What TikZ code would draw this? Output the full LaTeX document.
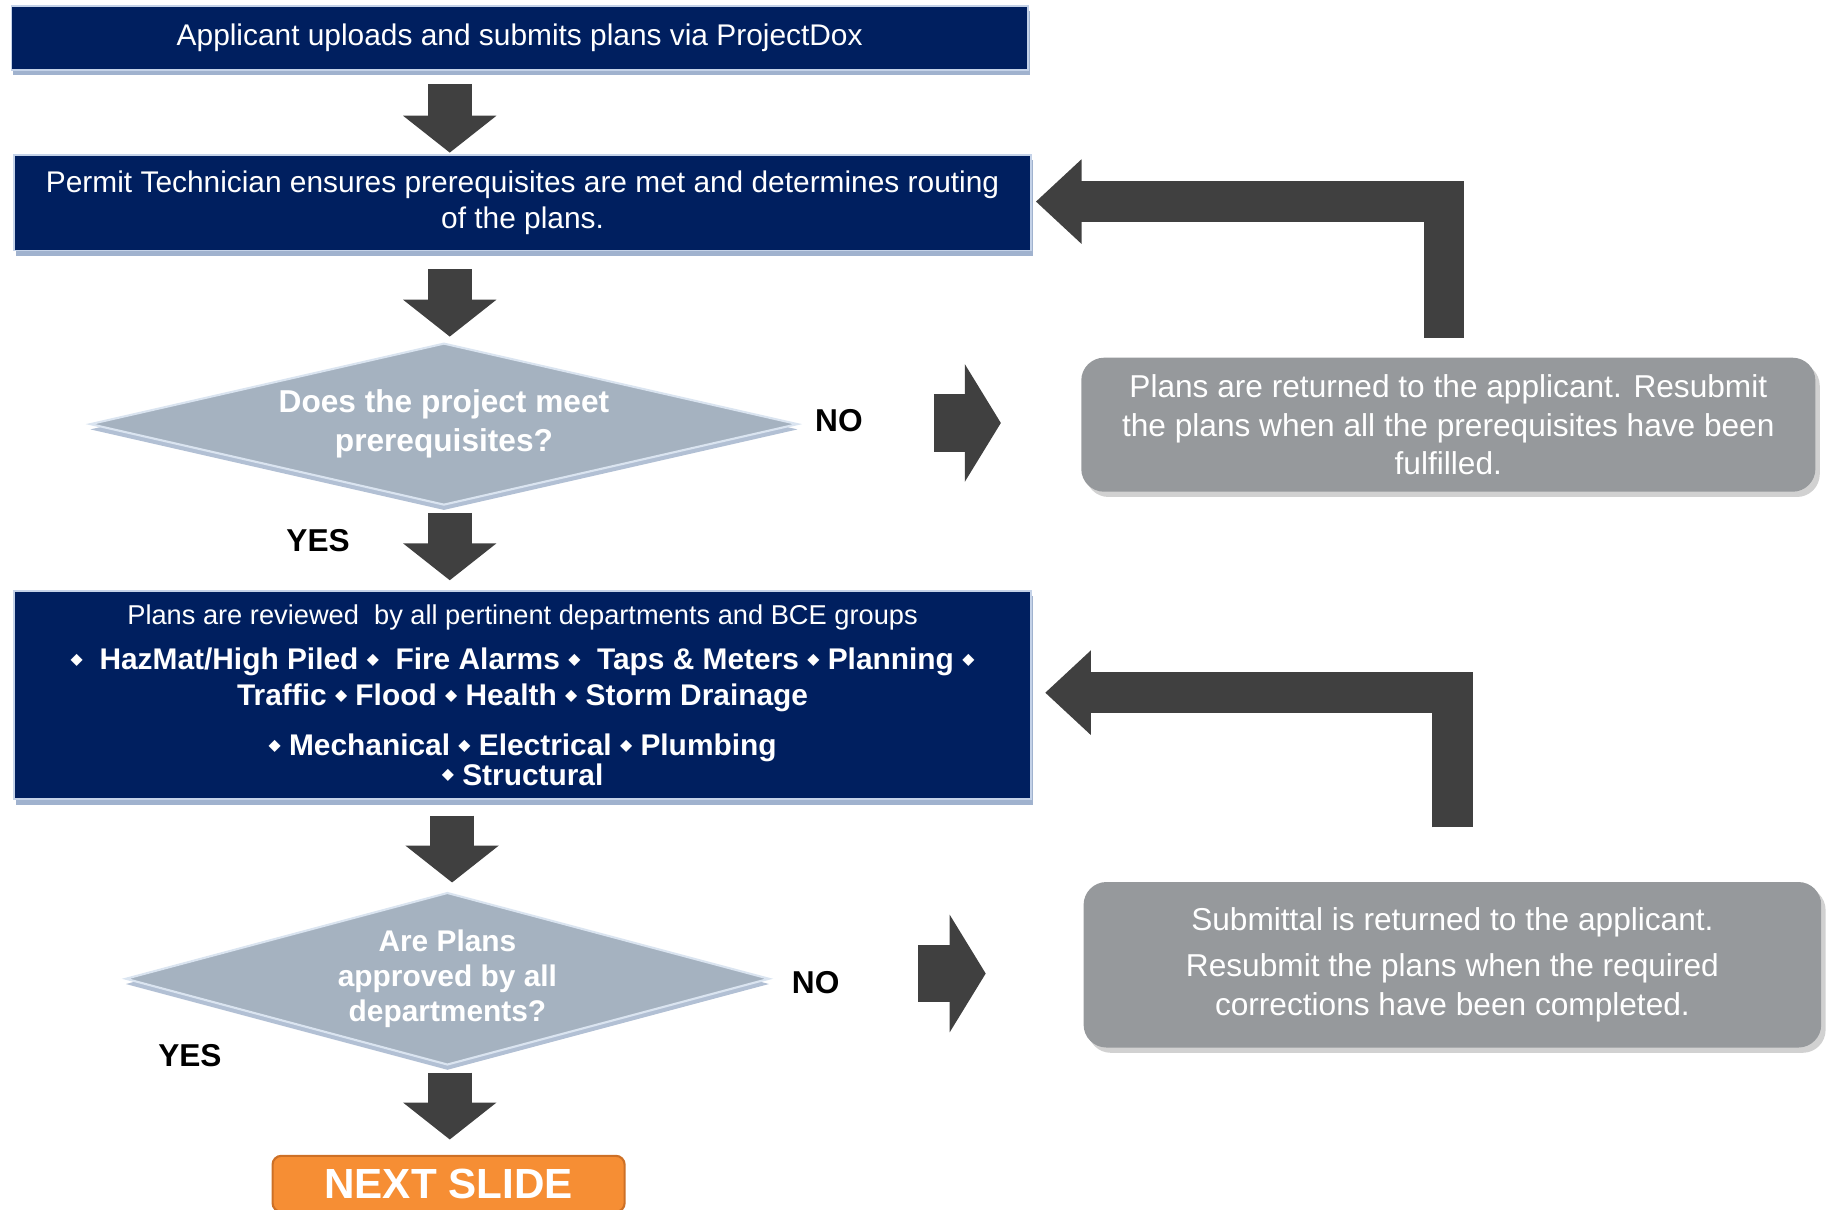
\documentclass[tikz,border=0pt]{standalone}
\usepackage{fontspec}
\setmainfont{Liberation Sans}
\newfontfamily\bulletfont{DejaVu Sans}
\usetikzlibrary{shapes.geometric,arrows.meta,shadows,calc}

\definecolor{boxnavy}{RGB}{0,31,95}
\definecolor{boxedge}{RGB}{196,210,232}
\definecolor{boxshade}{RGB}{160,178,206}
\definecolor{decfill}{RGB}{165,178,192}
\definecolor{decedge}{RGB}{218,228,240}
\definecolor{decshade}{RGB}{178,192,212}
\definecolor{retgrey}{RGB}{150,153,156}
\definecolor{arrowgrey}{RGB}{64,64,64}
\definecolor{slideorange}{RGB}{246,142,52}
\definecolor{slideedge}{RGB}{205,112,38}

\newcommand{\dept}{\raisebox{3pt}{\bulletfont\fontsize{9}{9}\selectfont ◆}}

\begin{document}
\begin{tikzpicture}[x=0.0233cm, y=-0.0233cm,
    stepbox/.style={fill=boxnavy, draw=boxedge, line width=1pt, text=white,
        align=center, inner sep=0pt, outer sep=0pt,
        font=\fontsize{17}{20.6}\selectfont,
        drop shadow={shadow xshift=1pt, shadow yshift=-3pt, fill=boxshade, opacity=1}},
    decision/.style={diamond, fill=decfill, draw=decedge, line width=1.2pt, text=white,
        align=center, inner sep=0pt, outer sep=0pt, aspect=3.6,
        drop shadow={shadow xshift=0pt, shadow yshift=-3pt, fill=decshade, opacity=1}},
    returnbox/.style={fill=retgrey, rounded corners=13pt, text=white, align=center,
        inner sep=0pt, outer sep=0pt, font=\fontsize{18}{22}\selectfont,
        drop shadow={shadow xshift=2.5pt, shadow yshift=-3pt, fill=black, opacity=0.18}},
    answer/.style={font=\bfseries\fontsize{18}{18}\selectfont, text=black},
    downarrow/.style={arrowgrey, line width=25pt, -{Triangle[width=52pt,length=21pt]}},
    rightarrow/.style={arrowgrey, line width=32.5pt, -{Triangle[width=66pt,length=20.5pt]}},
    backarrow/.style={arrowgrey, line width=23pt, -{Triangle[width=46.5pt,length=26pt]}}]
    \useasboundingbox (0,0) rectangle (1568,1038);

    % Main column
    \node[stepbox, minimum width=20.32cm, minimum height=1.28cm] (submit) at (446,32.5)
        {Applicant uploads and submits plans via ProjectDox};
    \node[stepbox, minimum width=20.34cm, minimum height=1.91cm] (techbox) at (448.5,174)
        {Permit Technician ensures prerequisites are met and determines routing\\ of the plans.};
    \node[decision, minimum width=14.14cm, minimum height=3.22cm,
        font=\bfseries\fontsize{18}{22}\selectfont] (prereq) at (381,364)
        {Does the project meet\\ prerequisites?};
    \node[stepbox, minimum width=20.34cm, minimum height=4.17cm,
        font=\bfseries\fontsize{17}{20.6}\selectfont] (review) at (448.5,596.5)
        {{\mdseries\fontsize{15.5}{18}\selectfont Plans are reviewed \ by all pertinent departments and BCE groups}\\[5pt]
         \dept\ \ HazMat/High Piled \dept\ \ Fire Alarms \dept\ \ Taps \& Meters \dept\ Planning \dept\\
         Traffic \dept\ Flood \dept\ Health \dept\ Storm Drainage\\[8pt]
         \dept\ Mechanical \dept\ Electrical \dept\ Plumbing\\[-4pt]
         \dept\ Structural};
    \node[decision, minimum width=12.86cm, minimum height=3.43cm,
        font=\bfseries\fontsize{17}{20}\selectfont] (approved) at (384,840)
        {Are Plans\\ approved by all\\ departments?};
    \node[fill=slideorange, draw=slideedge, line width=1.2pt, rounded corners=5pt,
        text=white, font=\bfseries\fontsize{24}{24}\selectfont, inner sep=0pt,
        outer sep=0pt, minimum width=7.04cm, minimum height=1.12cm] (nextslide) at (385,1016)
        {NEXT SLIDE};

    % Returned boxes
    \node[returnbox, minimum width=14.68cm, minimum height=2.68cm] (returned) at (1243,364.5)
        {Plans are returned to the applicant. Resubmit\\ the plans when all the prerequisites have been\\ fulfilled.};
    \node[returnbox, minimum width=14.75cm, minimum height=3.31cm] (corrections) at (1246.5,828)
        {Submittal is returned to the applicant.\\[4pt] Resubmit the plans when the required\\ corrections have been completed.};

    % Answers
    \node[answer] (no1) at (720,361) {NO};
    \node[answer] (yes1) at (273,464) {YES};
    \node[answer] (no2) at (700,843) {NO};
    \node[answer] (yes2) at (163,906) {YES};

    % Arrows
    \coordinate (spine) at (386,0);
    \draw[downarrow] ($(spine |- submit.south)+(0,12)$) -- ($(spine |- techbox.north)+(0,-2)$);
    \draw[downarrow] ($(spine |- techbox.south)+(0,16)$) -- ($(spine |- prereq.north)+(0,-6)$);
    \draw[downarrow] ($(spine |- prereq.south)+(0,7)$) -- ($(spine |- review.north)+(0,-9)$);
    \draw[downarrow] ($(spine |- review.south)+(2,14)$) -- ($(spine |- approved.north)+(2,-9)$);
    \draw[downarrow] ($(spine |- approved.south)+(0,7)$) -- ($(spine |- nextslide.north)+(0,-14)$);

    \draw[rightarrow] ($(prereq.east)+(117,-1)$) -- ($(returned.west |- prereq.east)+(-69,-1)$);
    \draw[rightarrow] ($(approved.east)+(128,-4.5)$) -- ($(corrections.west |- approved.east)+(-84,-4.5)$);

    \draw[backarrow] ($(returned.north)+(-3.5,-17)$) |- ($(techbox.east)+(4,-1)$);
    \draw[backarrow] ($(corrections.north)+(0,-47)$) |- ($(review.east)+(12,-2)$);
\end{tikzpicture}
\end{document}
